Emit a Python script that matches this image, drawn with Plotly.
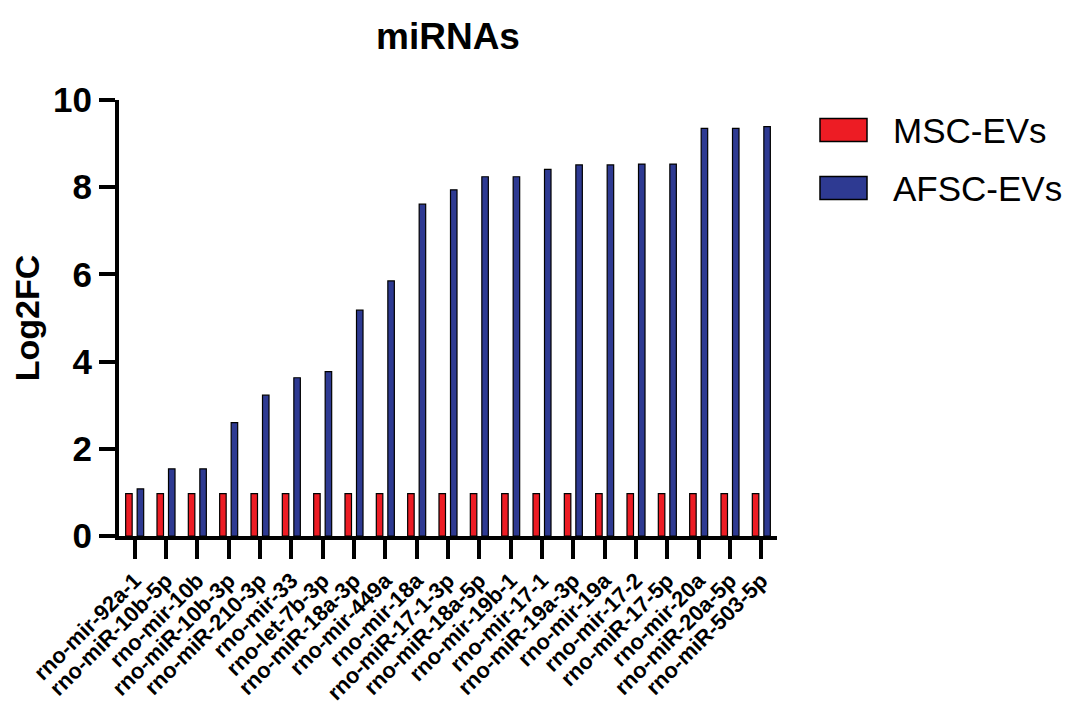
import plotly.graph_objects as go

# ---- data ----
categories = [
    "rno-mir-92a-1", "rno-miR-10b-5p", "rno-mir-10b", "rno-miR-10b-3p",
    "rno-miR-210-3p", "rno-mir-33", "rno-let-7b-3p", "rno-miR-18a-3p",
    "rno-mir-449a", "rno-mir-18a", "rno-miR-17-1-3p", "rno-miR-18a-5p",
    "rno-mir-19b-1", "rno-mir-17-1", "rno-miR-19a-3p", "rno-mir-19a",
    "rno-mir-17-2", "rno-miR-17-5p", "rno-mir-20a", "rno-miR-20a-5p",
    "rno-miR-503-5p",
]
msc_values = [0.97] * 21
afsc_values = [1.08, 1.54, 1.54, 2.60, 3.23, 3.63, 3.77, 5.18, 5.85, 7.61,
               7.94, 8.24, 8.24, 8.41, 8.51, 8.51, 8.53, 8.53, 9.35, 9.35, 9.39]
series_names = ["MSC-EVs", "AFSC-EVs"]
series_colors = ["#ED1C24", "#2E3A92"]
y_ticks = [0, 2, 4, 6, 8, 10]
title_text = "miRNAs"
y_title = "Log2FC"

# ---- layout geometry (pixels, window coordinates) ----
OFF = 8                      # default page body margin
W_FIG, H_FIG = 1072 - OFF, 706 - OFF
L, R, T, B = 119 - OFF, 295, 100 - OFF, 170
PW = W_FIG - L - R
PH = H_FIG - T - B

def px(x):
    return (x - OFF - L) / PW

def py(y):
    return (H_FIG - B - (y - OFF)) / PH

FONT = "Arial, Liberation Sans, Helvetica, sans-serif"

fig = go.Figure()
for name, vals, col in zip(series_names, [msc_values, afsc_values], series_colors):
    fig.add_trace(go.Bar(
        x=categories, y=vals, name=name,
        marker=dict(color=col, line=dict(color="black", width=1.2)),
        showlegend=False,
    ))

fig.update_layout(
    width=W_FIG, height=H_FIG,
    margin=dict(l=L, r=R, t=T, b=B, autoexpand=False),
    paper_bgcolor="white", plot_bgcolor="white",
    barmode="group", bargap=0.265, bargroupgap=0.435,
    font=dict(family=FONT, color="black"),
    title=dict(text=title_text, x=0.5, xref="paper", xanchor="center",
               y=1 - (36 - OFF) / H_FIG, yref="container", yanchor="middle",
               font=dict(size=37, weight="bold", family=FONT, color="black")),
    xaxis=dict(
        type="category", range=[-0.5, len(categories) - 0.5],
        showline=True, linecolor="black", linewidth=4,
        ticks="outside", ticklen=19, tickwidth=3.5, tickcolor="black",
        tickangle=-45, tickfont=dict(size=22, weight="bold", family=FONT),
        showgrid=False, zeroline=False, automargin=False,
    ),
    yaxis=dict(
        range=[0, 10], tickvals=y_ticks,
        showline=True, linecolor="black", linewidth=4,
        ticks="outside", ticklen=16, tickwidth=3.5, tickcolor="black",
        tickfont=dict(size=35, weight="bold", family=FONT),
        title=dict(text=y_title, standoff=24,
                   font=dict(size=34, weight="bold", family=FONT)),
        showgrid=False, zeroline=False, automargin=False,
    ),
)

# ---- custom legend (large swatches as in the reference) ----
legend_rows = [130, 188]
for name, col, yc in zip(series_names, series_colors, legend_rows):
    fig.add_shape(type="rect", xref="paper", yref="paper",
                  x0=px(820), x1=px(867), y0=py(yc - 11.5), y1=py(yc + 11.5),
                  fillcolor=col, line=dict(color="black", width=1.5))
    fig.add_annotation(x=px(891), y=py(yc), xref="paper", yref="paper",
                       text=name, showarrow=False, xanchor="left", yanchor="middle",
                       font=dict(size=35, family=FONT, color="black"))

fig.write_html("out.html")
